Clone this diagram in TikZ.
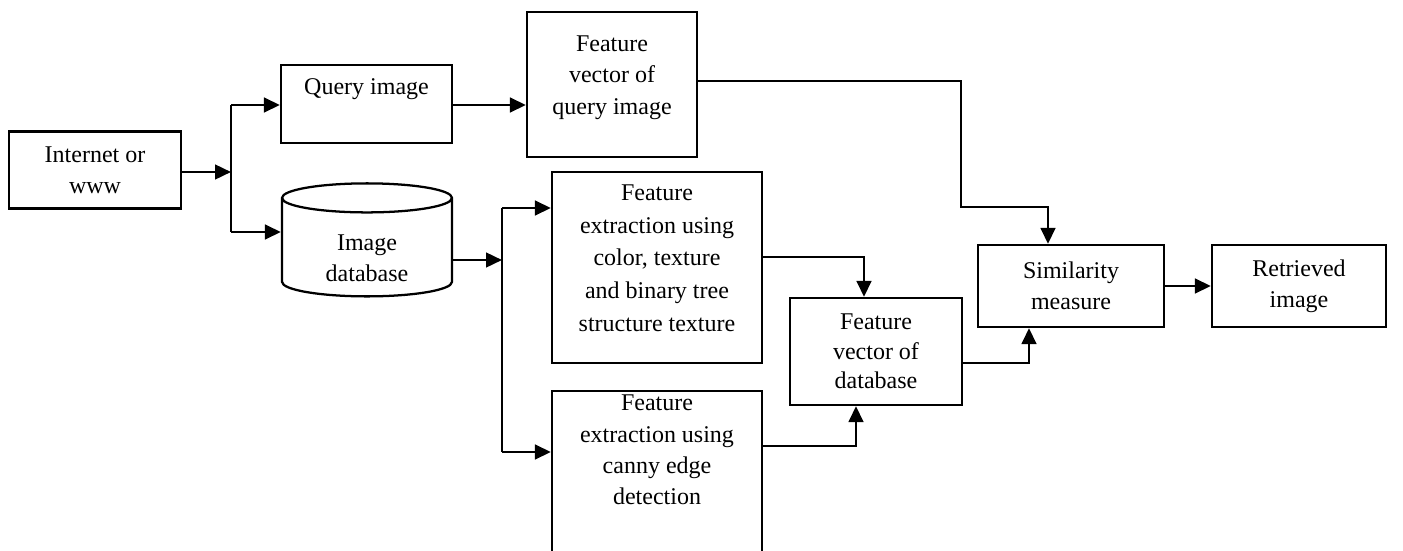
\documentclass[tikz,border=0pt]{standalone}
\usepackage{fontspec}
\setmainfont{Liberation Serif}
\usetikzlibrary{arrows.meta,shapes.geometric}

\tikzset{every picture/.style={line width=0.75pt}}
\tikzset{
  block/.style={draw,line width=1.7pt,align=center,inner sep=2pt,font=\fontsize{18}{23.5}\selectfont},
  store/.style={block,cylinder,shape border rotate=90,aspect=0.33},
  wire/.style={line width=1.9pt},
  flow/.style={wire,-{Triangle[length=12pt,width=11pt]}}
}

\begin{document}
\begin{tikzpicture}[x=0.75pt,y=0.75pt,yscale=-1,xscale=1]
        \useasboundingbox (0,0) rectangle (1403,550);

        %Shape: Rectangle [source]
        \node[block,minimum width=129pt,minimum height=57.75pt] (inet) at (95,170) {Internet or\\www};
        %Shape: Rectangle [query]
        \node[block,minimum width=128.25pt,minimum height=58.5pt] (query) at (366.5,104) {Query image\\[2pt]};
        %Shape: Rectangle [query vector]
        \node[block,minimum width=127.5pt,minimum height=108.75pt] (fvq) at (612,84.5) {Feature\\vector of\\query image\\[-9pt]};
        %Shape: Can [database]
        \node[store,minimum width=127.5pt,minimum height=84.75pt] (db) at (367,249.5) {\mbox{}\\[1pt]Image\\database};
        %Shape: Rectangle [extraction 1]
        \node[block,minimum width=157.5pt,minimum height=143.25pt,font=\fontsize{18}{24.5}\selectfont] (fe1) at (657,267.5) {Feature\\extraction using\\color, texture\\and binary tree\\structure texture\\[-10pt]};
        %Shape: Rectangle [extraction 2]
        \node[block,minimum width=157.5pt,inner ysep=3pt,anchor=north] (fe2) at (657,390) {Feature\\extraction using\\canny edge\\detection\\[40pt]};
        %Shape: Rectangle [database vector]
        \node[block,minimum width=129pt,minimum height=80.25pt,font=\fontsize{18}{22}\selectfont] (fvdb) at (876,351.5) {Feature\\vector of\\database};
        %Shape: Rectangle [similarity]
        \node[block,minimum width=139.5pt,minimum height=61.5pt] (sim) at (1071,286) {Similarity\\measure};
        %Shape: Rectangle [result]
        \node[block,minimum width=130.5pt,minimum height=61.5pt] (ret) at (1299,286) {Retrieved\\image};

        % bends
        \coordinate (fork1) at (231,172);
        \coordinate (q1) at (231,105);
        \coordinate (q2) at (231,232);
        \coordinate (fork2) at (502,260);
        \coordinate (e1) at (502,208);
        \coordinate (e2) at (502,452);
        \coordinate (k1) at (864,257);
        \coordinate (k2) at (856,446);
        \coordinate (k3) at (1029,363);
        \coordinate (t1) at (961,81);
        \coordinate (t2) at (1048,207);

        %Straight Lines
        \draw[flow] (inet.east |- fork1) -- (fork1);
        \draw[wire] (q1) -- (q2);
        \draw[flow] (q1) -- (q1 -| query.west);
        \draw[flow] (q2) -- (q2 -| db.west);
        \draw[flow] (query.east |- q1) -- (q1 -| fvq.west);

        \draw[flow] (db.east |- fork2) -- (fork2);
        \draw[wire] (e1) -- (e2);
        \draw[flow] (e1) -- (e1 -| fe1.west);
        \draw[flow] (e2) -- (e2 -| fe2.west);

        \draw[flow] (fe1.east |- k1) -- (k1) -- (k1 |- fvdb.north);
        \draw[flow] (fe2.east |- k2) -- (k2) -- (k2 |- fvdb.south);
        \draw[flow] (fvdb.east |- k3) -- (k3) -- (k3 |- sim.south);
        \draw[flow] (fvq.east |- t1) -- (t1) -- (t1 |- t2) -- (t2) -- (t2 |- sim.north);
        \draw[flow] (sim.east) -- (ret.west);
    \end{tikzpicture}
\end{document}
